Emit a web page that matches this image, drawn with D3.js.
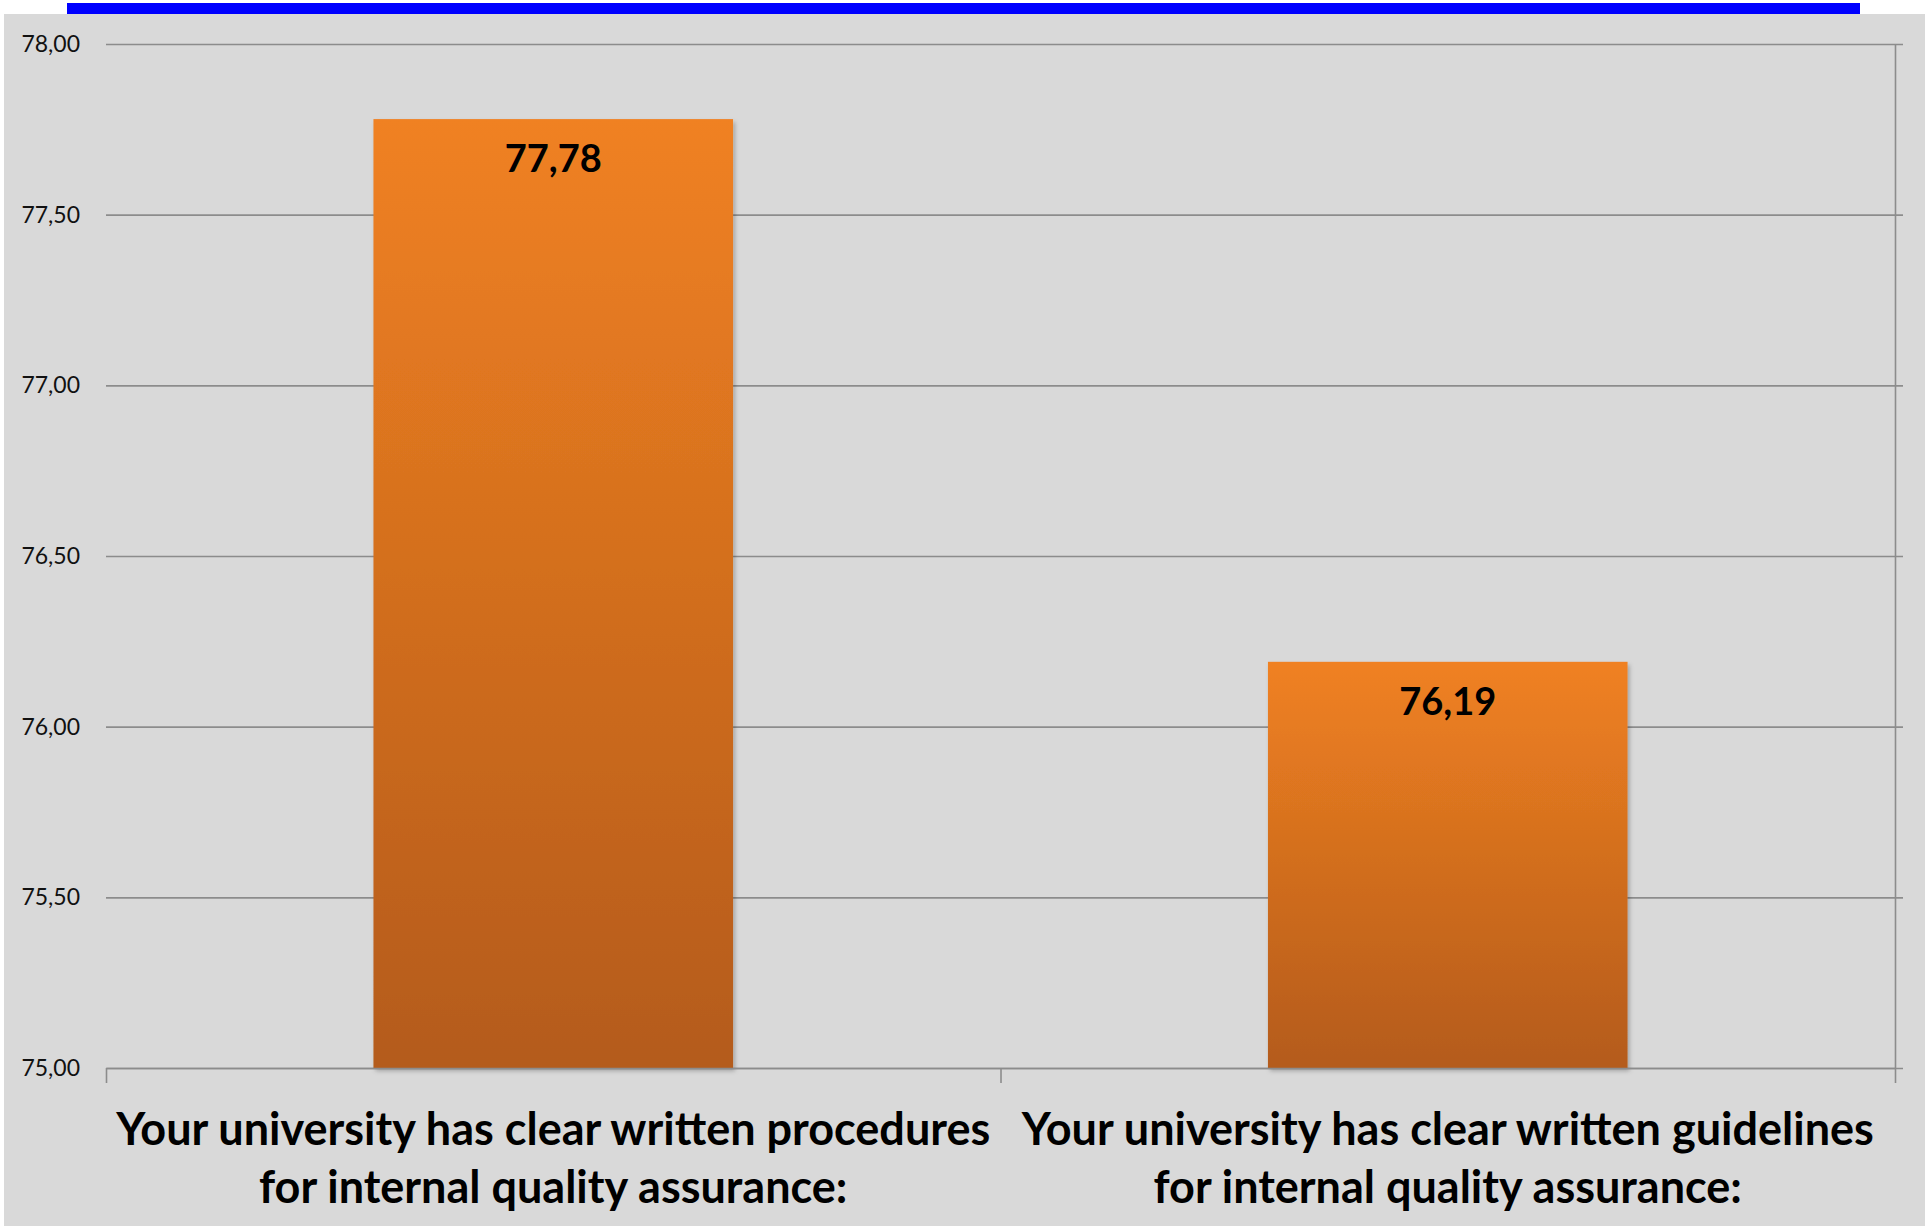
<!DOCTYPE html>
<html>
<head>
<meta charset="utf-8">
<script src="https://cdn.jsdelivr.net/npm/d3@7"></script>
<style>
  body { margin: 0; background: #fff; }
  svg { display: block; }
</style>
</head>
<body>
<div id="chart"></div>
<script>
// data
var categories = [
    ["Your university has clear written procedures", "for internal quality assurance:"],
    ["Your university has clear written guidelines", "for internal quality assurance:"]
];
var values = [77.78, 76.19];
var yTicks = [75, 75.5, 76, 76.5, 77, 77.5, 78];

var width = 1927,
    height = 1226,
    plot = { left: 106, right: 1895, top: 44, bottom: 1068 };

var svg = d3.select("#chart").append("svg")
    .attr("width", width)
    .attr("height", height);

// gray panel and blue strip on top
svg.append("rect")
    .attr("x", 4).attr("y", 14)
    .attr("width", 1921).attr("height", height - 14)
    .attr("fill", "#d9d9d9");
svg.append("rect")
    .attr("x", 67).attr("y", 3)
    .attr("width", 1793).attr("height", 11)
    .attr("fill", "#0000ff");

var defs = svg.append("defs");
var grad = defs.append("linearGradient")
    .attr("id", "barGrad")
    .attr("x1", 0).attr("y1", 0).attr("x2", 0).attr("y2", 1);
grad.append("stop").attr("offset", "0%").attr("stop-color", "#f08122");
grad.append("stop").attr("offset", "100%").attr("stop-color", "#b45b1a");

var shadow = defs.append("filter").attr("id", "shadow")
    .attr("x", "-5%").attr("y", "-5%").attr("width", "110%").attr("height", "110%");
shadow.append("feDropShadow")
    .attr("dx", 2).attr("dy", 3).attr("stdDeviation", 2)
    .attr("flood-color", "#000").attr("flood-opacity", 0.25);

var y = d3.scaleLinear()
    .domain([75, 78])
    .range([plot.bottom, plot.top]);

var x = d3.scaleBand()
    .domain(d3.range(categories.length))
    .range([plot.left, plot.right])
    .padding(0);

var edges = d3.scaleLinear()
    .domain([0, categories.length])
    .range([plot.left, plot.right]);

// gridlines + left labels
var yAxis = svg.append("g")
    .attr("transform", "translate(" + plot.left + ",0)")
    .call(d3.axisLeft(y)
        .tickValues(yTicks)
        .tickSizeInner(-(plot.right - plot.left + 8))
        .tickSizeOuter(0)
        .tickPadding(26)
        .tickFormat(function (d) { return d3.format(".2f")(d).replace(".", ","); }));
yAxis.select(".domain").remove();
yAxis.selectAll(".tick line")
    .attr("stroke", "#8c8c8c")
    .attr("stroke-width", 1.6);
yAxis.selectAll(".tick text")
    .attr("font-family", "Lato, 'Open Sans', sans-serif")
    .attr("font-size", 23)
    .attr("fill", "#111");

// right axis line
var rAxis = svg.append("g")
    .attr("transform", "translate(" + plot.right + ",0)")
    .call(d3.axisRight(y).tickValues([]).tickSizeOuter(0));
rAxis.select(".domain").attr("stroke", "#8c8c8c").attr("stroke-width", 1.6);

// bars
var barW = x.bandwidth() * 0.402;
svg.selectAll(".bar")
    .data(values)
    .enter()
    .append("rect")
    .attr("class", "bar")
    .attr("x", function (d, i) { return x(i) + x.bandwidth() / 2 - barW / 2; })
    .attr("y", function (d) { return y(d); })
    .attr("width", barW)
    .attr("height", function (d) { return y(75) - y(d); })
    .attr("fill", "url(#barGrad)")
    .attr("filter", "url(#shadow)");

// value labels
svg.selectAll(".val")
    .data(values)
    .enter()
    .append("text")
    .attr("class", "val")
    .attr("x", function (d, i) { return x(i) + x.bandwidth() / 2; })
    .attr("y", function (d) { return y(d) + 53; })
    .attr("text-anchor", "middle")
    .attr("font-family", "Lato, 'Open Sans', sans-serif")
    .attr("font-weight", "bold")
    .attr("font-size", 38)
    .attr("fill", "#000")
    .text(function (d) { return d3.format(".2f")(d).replace(".", ","); });

// bottom axis with boundary ticks
var xAxis = svg.append("g")
    .attr("transform", "translate(0," + plot.bottom + ")")
    .call(d3.axisBottom(edges)
        .tickValues(d3.range(categories.length + 1))
        .tickSizeInner(15)
        .tickSizeOuter(0)
        .tickFormat(""));
xAxis.select(".domain").attr("stroke", "#8c8c8c").attr("stroke-width", 1.6);
xAxis.selectAll(".tick line").attr("stroke", "#8c8c8c").attr("stroke-width", 1.6);

// category labels, two lines each
var labels = svg.selectAll(".cat")
    .data(categories)
    .enter()
    .append("text")
    .attr("class", "cat")
    .attr("text-anchor", "middle")
    .attr("font-family", "Lato, 'Open Sans', sans-serif")
    .attr("font-weight", "bold")
    .attr("font-size", 45)
    .attr("fill", "#000");

labels.selectAll("tspan")
    .data(function (d, i) { return d.map(function (t) { return { t: t, i: i }; }); })
    .enter()
    .append("tspan")
    .attr("x", function (d) { return x(d.i) + x.bandwidth() / 2; })
    .attr("y", function (d, j) { return 1145 + j * 58; })
    .text(function (d) { return d.t; });
</script>
</body>
</html>
